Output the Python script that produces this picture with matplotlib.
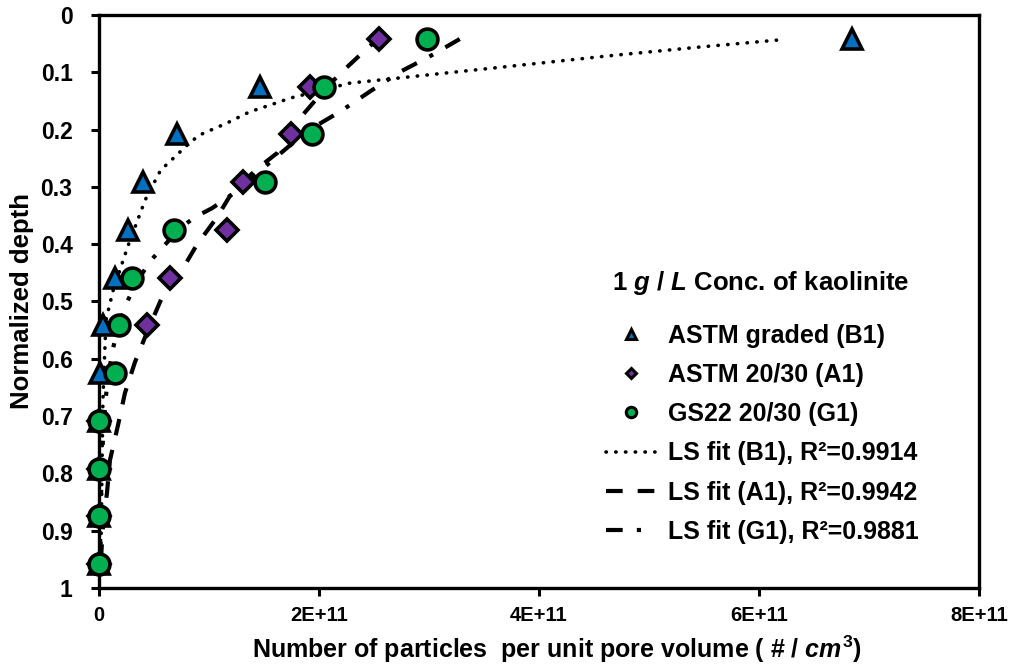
import matplotlib
matplotlib.use('Agg')
import matplotlib.pyplot as plt
from matplotlib.lines import Line2D

plt.rcParams['font.family'] = 'Liberation Sans'
plt.rcParams['font.weight'] = 'bold'
plt.rcParams['mathtext.fontset'] = 'custom'
plt.rcParams['mathtext.rm'] = 'Liberation Sans:bold'
plt.rcParams['mathtext.it'] = 'Liberation Sans:italic:bold'
plt.rcParams['mathtext.bf'] = 'Liberation Sans:bold'

nan = float('nan')

# normalized depth of the sampling ports
depth = [0.0417, 0.125, 0.2083, 0.2917, 0.375, 0.4583,
         0.5417, 0.625, 0.7083, 0.7917, 0.875, 0.9583]

# particles per unit pore volume (x 1e11)
b1_vals = [6.85, 1.46, 0.71, 0.40, 0.26, 0.145, 0.04, 0.005, 0.0, 0.0, 0.0, 0.0]
a1_vals = [2.55, 1.92, 1.75, 1.31, 1.16, 0.645, 0.44, nan, 0.0, 0.0, 0.0, 0.0]
g1_vals = [2.98, 2.05, 1.94, 1.51, 0.68, 0.30, 0.18, 0.145, 0.0, 0.0, 0.0, 0.0]

# least-squares fit curves (x 1e11, depth)
fit_b1_x = [6.16, 5.46, 4.60, 4.01, 3.07, 2.58, 2.28, 1.74, 1.56, 1.37, 1.16,
            0.92, 0.83, 0.71, 0.56, 0.42, 0.26, 0.13, 0.064, 0.036, 0.018, 0.015]
fit_b1_y = [0.044, 0.056, 0.072, 0.084, 0.103, 0.113, 0.119, 0.145, 0.157, 0.169, 0.189,
            0.209, 0.222, 0.244, 0.271, 0.323, 0.405, 0.48, 0.532, 0.672, 0.934, 0.958]

fit_a1_x = [2.58, 2.44, 2.25, 2.07, 1.85, 1.74, 1.62, 1.46, 1.31, 1.19, 1.07, 0.89,
            0.755, 0.627, 0.555, 0.445, 0.327, 0.236, 0.173, 0.10, 0.073, 0.036, 0.018]
fit_a1_y = [0.035, 0.058, 0.092, 0.126, 0.175, 0.206, 0.241, 0.265, 0.291, 0.316, 0.354, 0.401,
            0.445, 0.471, 0.501, 0.550, 0.606, 0.660, 0.716, 0.777, 0.834, 0.894, 0.951]

fit_g1_x = [3.28, 3.00, 2.74, 2.46, 2.19, 1.96, 1.74, 1.55, 1.37, 1.19, 1.03, 0.87,
            0.74, 0.60, 0.46, 0.345, 0.255, 0.18, 0.12, 0.073, 0.045, 0.027, 0.018, 0.009]
fit_g1_y = [0.042, 0.073, 0.099, 0.134, 0.169, 0.195, 0.227, 0.258, 0.288, 0.316, 0.337, 0.353,
            0.372, 0.401, 0.431, 0.466, 0.501, 0.541, 0.588, 0.646, 0.707, 0.777, 0.846, 0.934]

xticks = [0, 2e11, 4e11, 6e11, 8e11]
xtick_labels = ['0', '2E+11', '4E+11', '6E+11', '8E+11']
yticks = [0, 0.1, 0.2, 0.3, 0.4, 0.5, 0.6, 0.7, 0.8, 0.9, 1.0]
ytick_labels = ['0', '0.1', '0.2', '0.3', '0.4', '0.5', '0.6', '0.7', '0.8', '0.9', '1']

scale = 1e11
dot_style = (0, (0.1, 2.6))
dash_style = (0, (4, 3.6))
dashdot_style = (0, (4, 3.4, 1.0, 3.4))

fig = plt.figure(figsize=(10.17, 6.68), dpi=100)
ax = fig.add_axes([0.0973, 0.1198, 0.8653, 0.8578])

# fitted curves
ax.plot([v * scale for v in fit_b1_x], fit_b1_y, color='black', lw=2.6,
        linestyle=dot_style, dash_capstyle='round', zorder=2)
ax.plot([v * scale for v in fit_a1_x], fit_a1_y, color='black', lw=3,
        linestyle=dash_style, zorder=2)
ax.plot([v * scale for v in fit_g1_x], fit_g1_y, color='black', lw=3,
        linestyle=dashdot_style, zorder=2)

# measured points
mk = dict(linestyle='none', markeredgecolor='black', markeredgewidth=2.6,
          clip_on=False, zorder=4)
ax.plot([v * scale for v in b1_vals], depth, marker='^', markersize=14,
        markerfacecolor='#0070C0', **mk)
ax.plot([v * scale for v in a1_vals], depth, marker='D', markersize=11,
        markerfacecolor='#7030A0', **mk)
ax.plot([v * scale for v in g1_vals], depth, marker='o', markersize=15,
        markerfacecolor='#00B050', **mk)

ax.set_xlim(0, 8e11)
ax.set_ylim(1, 0)
ax.set_xticks(xticks)
ax.set_xticklabels(xtick_labels)
ax.set_yticks(yticks)
ax.set_yticklabels(ytick_labels)
ax.tick_params(axis='both', direction='out', length=6, width=2.2)
ax.tick_params(axis='x', labelsize=14.5, pad=7)
ax.tick_params(axis='y', labelsize=16.5, pad=13)
for sp in ax.spines.values():
    sp.set_linewidth(2.4)

ax.set_xlabel('Number of particles  per unit pore volume ( # / $cm^{\\mathit{3}}$)',
              fontsize=18, fontweight='bold')
ax.set_ylabel('Normalized depth', fontsize=18.5, fontweight='bold')
ax.xaxis.set_label_coords(0.52, -0.080)
ax.yaxis.set_label_coords(-0.074, 0.5)

# legend
handles = [
    Line2D([], [], linestyle='none', marker='^', markersize=7, markerfacecolor='#0070C0',
           markeredgecolor='black', markeredgewidth=2.2),
    Line2D([], [], linestyle='none', marker='D', markersize=5.5, markerfacecolor='#7030A0',
           markeredgecolor='black', markeredgewidth=2.2),
    Line2D([], [], linestyle='none', marker='o', markersize=7.5, markerfacecolor='#00B050',
           markeredgecolor='black', markeredgewidth=2.2),
    Line2D([], [], color='black', lw=2.6, linestyle=dot_style, dash_capstyle='round'),
    Line2D([], [], color='black', lw=3, linestyle=dash_style),
    Line2D([], [], color='black', lw=3, linestyle=dashdot_style),
]
labels = ['ASTM graded (B1)', 'ASTM 20/30 (A1)', 'GS22 20/30 (G1)',
          'LS fit (B1), R²=0.9914', 'LS fit (A1), R²=0.9942', 'LS fit (G1), R²=0.9881']
leg = fig.legend(handles, labels, loc='upper left', bbox_to_anchor=(0.584, 0.5344),
                 frameon=False, fontsize=18, borderpad=0, labelspacing=0.61,
                 handlelength=1.94, handletextpad=0.52)
for t in leg.get_texts():
    t.set_fontweight('bold')

fig.text(0.748, 0.5763, '1 $g$ / $L$ Conc. of kaolinite', fontsize=18.5,
         fontweight='bold', ha='center', va='center')

fig.savefig('out.png', dpi=100)
